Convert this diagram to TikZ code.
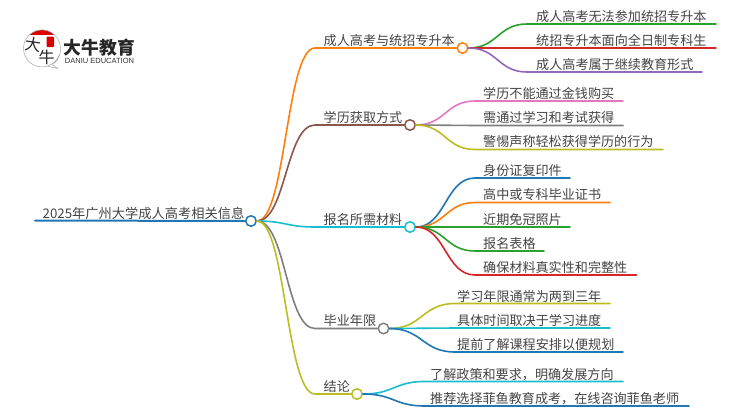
\documentclass[tikz,border=0pt]{standalone}
\usepackage{fontspec}
\setmainfont{Noto Sans CJK SC}
\newfontfamily\latinlogo{Liberation Sans}
\usetikzlibrary{calc}
\definecolor{cBlue}{HTML}{1F77B4}
\definecolor{cOrange}{HTML}{FF7F0E}
\definecolor{cGreen}{HTML}{2CA02C}
\definecolor{cRed}{HTML}{D62728}
\definecolor{cPurple}{HTML}{9467BD}
\definecolor{cBrown}{HTML}{8C564B}
\definecolor{cPink}{HTML}{E377C2}
\definecolor{cGray}{HTML}{7F7F7F}
\definecolor{cOlive}{HTML}{BCBD22}
\definecolor{cCyan}{HTML}{17BECF}
\definecolor{txt}{HTML}{444444}
\tikzset{
  lbl/.style={anchor=base west,inner sep=0pt,text=txt,font=\fontsize{13.1}{14}\selectfont},
  junction/.style={circle,draw=#1,fill=white,line width=1.5pt,minimum size=10.5pt,inner sep=0pt},
  wire/.style={draw=#1,line width=1.6pt,line cap=round},
}
% \wirelink{colour}{from}{curve end}{line end}
\newcommand{\wirelink}[4]{%
  \path[wire=#1] (#2) let \p1=(#2), \p2=(#3) in
    .. controls ({0.5*\x1+0.5*\x2},\y1) and ({0.5*\x1+0.5*\x2},\y2) .. (#3) -- (#4);}
\begin{document}
\begin{tikzpicture}[x=1pt,y=-1pt]
\useasboundingbox (0,0) rectangle (750,410);
\fill[white] (0,0) rectangle (750,410);
% logo
\begin{scope}
  \clip (42,48.5) circle (18.5);
  \fill[red!85!black] (22,30) rectangle (62,35);
\end{scope}
\draw[black!35,line width=.5pt] (60.4,50) arc (5:-340:18.5) (60.4,50) .. controls (60,58) and (56,63) .. (52,64) -- (57.5,68.5) -- (47,66);
\fill[red!85!black,rounded corners=1pt] (46.5,36.5) rectangle (54,47);
\node[inner sep=0pt,text=black!85,font=\fontsize{16}{16}\selectfont,rotate=-8] (logoa) at (33.5,45) {大};
\node[inner sep=0pt,text=black!85,font=\fontsize{16}{16}\selectfont] (logob) at (46.5,57) {牛};
\node[inner sep=0pt,text=black!85,font=\fontsize{17.8}{18}\selectfont\bfseries] (logoc) at (99.5,47.5) {大牛教育};
\node[inner sep=0pt,text=black!80,font=\latinlogo\fontsize{7.5}{8}\selectfont] (logod) at (99.5,60.5) {DANIU EDUCATION};

% texts
\node[lbl,font=\fontsize{13.25}{14}\selectfont] (t0) at (42.5,218) {2025年广州大学成人高考相关信息};
\node[lbl] (t1) at (323.5,45.5) {成人高考与统招专升本};
\node[lbl] (t2) at (323.5,122.5) {学历获取方式};
\node[lbl] (t3) at (323.5,224.5) {报名所需材料};
\node[lbl] (t4) at (323.5,325.5) {毕业年限};
\node[lbl] (t5) at (323.5,391) {结论};
\node[lbl] (a1) at (536,21.5) {成人高考无法参加统招专升本};
\node[lbl] (a2) at (536,45.5) {统招专升本面向全日制专科生};
\node[lbl] (a3) at (536,69.5) {成人高考属于继续教育形式};
\node[lbl] (b1) at (483,98.5) {学历不能通过金钱购买};
\node[lbl] (b2) at (483,122.5) {需通过学习和考试获得};
\node[lbl] (b3) at (483,146.5) {警惕声称轻松获得学历的行为};
\node[lbl] (c1) at (483,175.5) {身份证复印件};
\node[lbl] (c2) at (483,199.5) {高中或专科毕业证书};
\node[lbl] (c3) at (483,224.5) {近期免冠照片};
\node[lbl] (c4) at (483,248.5) {报名表格};
\node[lbl] (c5) at (483,272.5) {确保材料真实性和完整性};
\node[lbl] (d1) at (457,301) {学习年限通常为两到三年};
\node[lbl] (d2) at (457,325.5) {具体时间取决于学习进度};
\node[lbl] (d3) at (457,349.5) {提前了解课程安排以便规划};
\node[lbl] (e1) at (430,379) {了解政策和要求，明确发展方向};
\node[lbl] (e2) at (430,403.5) {推荐选择菲鱼教育成考，在线咨询菲鱼老师};

% junctions
\node[junction=cBlue] (j0) at (251,221) {};
\node[junction=cOrange] (j1) at (462.5,48) {};
\node[junction=cBrown] (j2) at (410,125) {};
\node[junction=cCyan] (j3) at (410,227) {};
\node[junction=cGray] (j4) at (383.5,328.5) {};
\node[junction=cOlive] (j5) at (357,394) {};

% root line
\coordinate (r0) at (35,220.5);
\path[wire=cBlue,line width=2pt] (r0) -- (j0.west);

% curve ends and line ends
\foreach \n/\x/\y in {k1/315/48,k2/315/125,k3/315/227,k4/315/328.5,k5/315/394,
  a1s/527/24,a2s/527/48,a3s/527/72,a1e/716/24,a2e/716/48,a3e/702/72,
  b1s/475/101,b2s/475/125.5,b3s/475/149.5,b1e/623/101,b2e/623/125.5,b3e/663/149.5,
  c1s/475/178,c2s/475/202.5,c3s/475/227,c4s/475/251,c5s/475/275,
  c1e/570/178,c2e/610/202.5,c3e/570/227,c4e/544/251,c5e/636.5/275,
  d1s/455/303.5,d2s/455/328,d3s/455/352,d1e/610/303.5,d2e/610/328,d3e/623/352,
  e1s/425/381.5,e2s/425/406,e1e/623/381.5,e2e/689/406}
  {\coordinate (\n) at (\x,\y);}

\wirelink{cOrange}{j0.east}{k1}{j1.west}
\wirelink{cBrown}{j0.east}{k2}{j2.west}
\wirelink{cCyan}{j0.east}{k3}{j3.west}
\wirelink{cGray}{j0.east}{k4}{j4.west}
\wirelink{cOlive}{j0.east}{k5}{j5.west}

\wirelink{cGreen}{j1.east}{a1s}{a1e}
\wirelink{cRed}{j1.east}{a2s}{a2e}
\wirelink{cPurple}{j1.east}{a3s}{a3e}

\wirelink{cPink}{j2.east}{b1s}{b1e}
\wirelink{cGray}{j2.east}{b2s}{b2e}
\wirelink{cOlive}{j2.east}{b3s}{b3e}

\wirelink{cBlue}{j3.east}{c1s}{c1e}
\wirelink{cOrange}{j3.east}{c2s}{c2e}
\wirelink{cGreen}{j3.east}{c3s}{c3e}
\wirelink{cGreen}{j3.east}{c4s}{c4e}
\wirelink{cRed}{j3.east}{c5s}{c5e}

\wirelink{cOlive}{j4.east}{d1s}{d1e}
\wirelink{cCyan}{j4.east}{d2s}{d2e}
\wirelink{cBlue}{j4.east}{d3s}{d3e}

\wirelink{cCyan}{j5.east}{e1s}{e1e}
\wirelink{cBlue}{j5.east}{e2s}{e2e}
\end{tikzpicture}
\end{document}
